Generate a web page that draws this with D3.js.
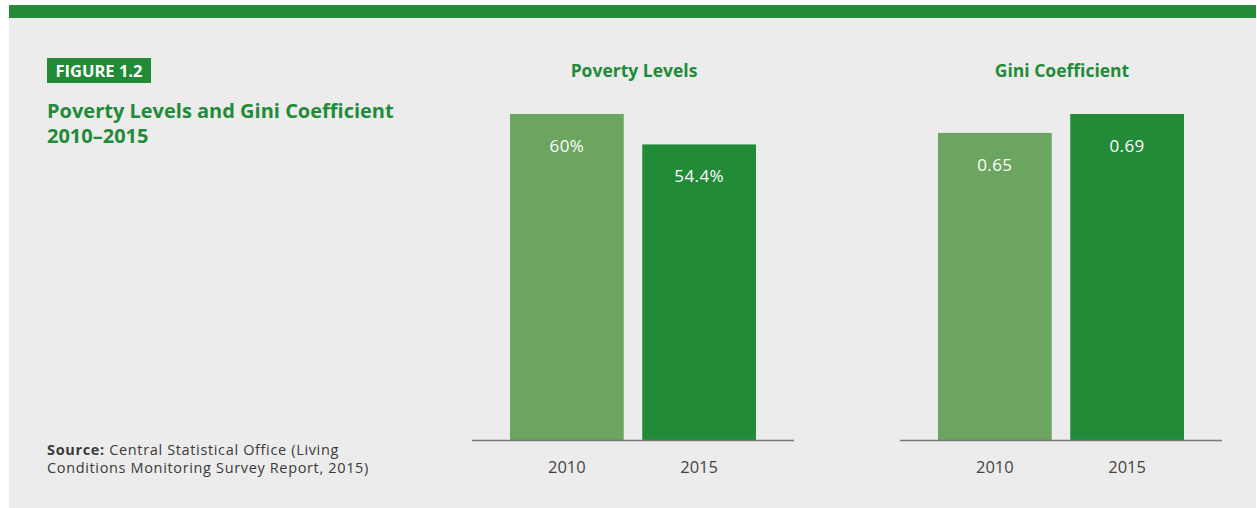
<!DOCTYPE html>
<html>
<head>
<meta charset="utf-8">
<script src="https://cdn.jsdelivr.net/npm/d3@7"></script>
<style>
  html, body { margin: 0; padding: 0; background: #fff; }
  svg { display: block; font-family: "Open Sans", "Noto Sans", sans-serif; }
</style>
</head>
<body>
<svg id="chart"></svg>
<script>
// data
const years = ['2010', '2015'];
const poverty = [60, 54.4];
const gini = [0.65, 0.69];
const povertyLabels = ['60%', '54.4%'];
const giniLabels = ['0.65', '0.69'];

const W = 1257, H = 508;
const green = '#218b38';
const lightGreen = '#6ba55f';
const barColors = [lightGreen, green];
const font = '"Open Sans", "Noto Sans", sans-serif';

const svg = d3.select('#chart')
  .attr('width', W)
  .attr('height', H);

// panel + top band
svg.append('rect')
  .attr('x', 9).attr('y', 5)
  .attr('width', W - 10).attr('height', H - 5)
  .attr('fill', '#ececec');

svg.append('rect')
  .attr('x', 9).attr('y', 5)
  .attr('width', W - 10).attr('height', 13)
  .attr('fill', green);

// figure tag
svg.append('rect')
  .attr('x', 47).attr('y', 58)
  .attr('width', 104).attr('height', 25)
  .attr('fill', green);

svg.append('text')
  .attr('x', 99).attr('y', 77)
  .attr('text-anchor', 'middle')
  .attr('fill', '#fff')
  .attr('font-size', 16.5)
  .attr('font-weight', 'bold')
  .text('FIGURE 1.2');

const title = svg.append('text')
  .attr('fill', green)
  .attr('font-size', 20)
  .attr('font-weight', 'bold');
title.append('tspan').attr('x', 47).attr('y', 118).text('Poverty Levels and Gini Coefficient');
title.append('tspan').attr('x', 47).attr('y', 143).text('2010–2015');

const source = svg.append('text')
  .attr('fill', '#3a3a3a')
  .attr('font-size', 14.5)
  .attr('letter-spacing', 0.65);
const s1 = source.append('tspan').attr('x', 47).attr('y', 455);
s1.append('tspan').attr('font-weight', 'bold').text('Source:');
s1.append('tspan').text(' Central Statistical Office (Living');
source.append('tspan').attr('x', 47).attr('y', 473).text('Conditions Monitoring Survey Report, 2015)');

const baseY = 440, topY = 114;

function panel(x0, x1, heading, values, labels, maxVal) {
  const x = d3.scaleBand()
    .domain(years)
    .range([x0 + 38, x1 - 38])
    .paddingInner(0.14)
    .paddingOuter(0);

  const y = d3.scaleLinear()
    .domain([0, maxVal])
    .range([baseY, topY]);

  const g = svg.append('g');

  g.append('text')
    .attr('x', (x0 + x1) / 2 + 1)
    .attr('y', 77)
    .attr('text-anchor', 'middle')
    .attr('fill', green)
    .attr('font-size', 17.5)
    .attr('font-weight', 'bold')
    .text(heading);

  g.selectAll('rect.bar')
    .data(values)
    .enter().append('rect')
    .attr('class', 'bar')
    .attr('x', (d, i) => x(years[i]))
    .attr('y', d => y(d))
    .attr('width', x.bandwidth())
    .attr('height', d => baseY - y(d))
    .attr('fill', (d, i) => barColors[i]);

  g.selectAll('text.val')
    .data(values)
    .enter().append('text')
    .attr('class', 'val')
    .attr('x', (d, i) => x(years[i]) + x.bandwidth() / 2)
    .attr('y', d => y(d) + 38)
    .attr('text-anchor', 'middle')
    .attr('fill', '#fff')
    .attr('font-size', 17)
    .attr('letter-spacing', 0.4)
    .text((d, i) => labels[i]);

  const axis = g.append('g')
    .attr('transform', `translate(0, ${baseY})`)
    .call(d3.axisBottom(x).tickSize(0).tickPadding(21));
  axis.select('.domain').remove();
  axis.selectAll('text')
    .attr('fill', '#444')
    .attr('font-size', 16.5)
    .attr('font-family', font);

  g.append('line')
    .attr('x1', x0).attr('x2', x1)
    .attr('y1', baseY + 0.5).attr('y2', baseY + 0.5)
    .attr('stroke', '#777')
    .attr('stroke-width', 1.5);
}

panel(472, 794, 'Poverty Levels', poverty, povertyLabels, 60);
panel(900, 1222, 'Gini Coefficient', gini, giniLabels, 0.69);
</script>
</body>
</html>
